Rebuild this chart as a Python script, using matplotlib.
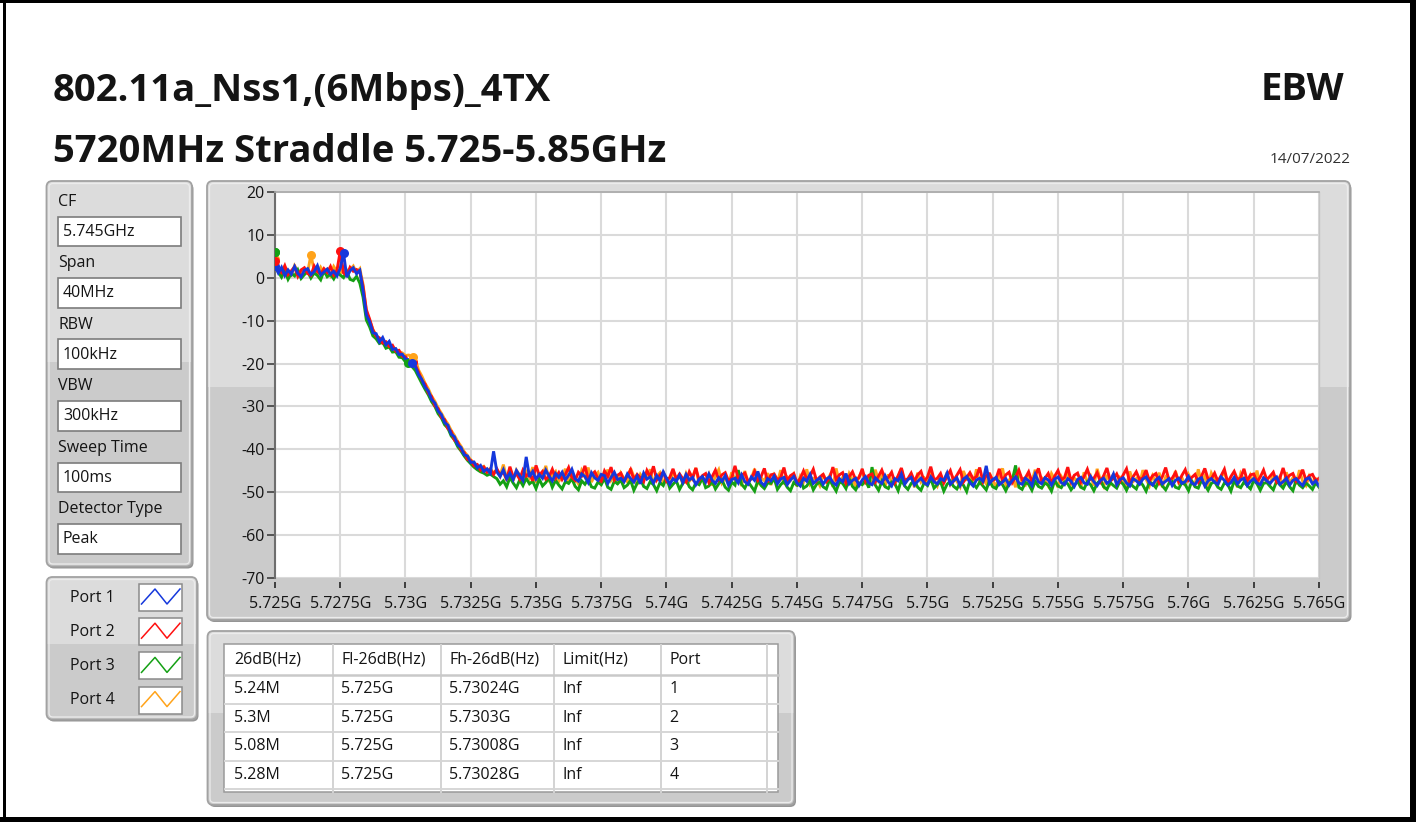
import numpy as np
import matplotlib
matplotlib.use("Agg")
import matplotlib.pyplot as plt
from matplotlib.patches import FancyBboxPatch, Rectangle

plt.rcParams['font.family'] = ['Open Sans', 'DejaVu Sans']

# ---------------------------------------------------------------- text / data
TITLE_1 = "802.11a_Nss1,(6Mbps)_4TX"
TITLE_2 = "5720MHz Straddle 5.725-5.85GHz"
TEST_NAME = "EBW"
TEST_DATE = "14/07/2022"

PARAM_LABELS = ["CF", "Span", "RBW", "VBW", "Sweep Time", "Detector Type"]
PARAM_VALUES = ["5.745GHz", "40MHz", "100kHz", "300kHz", "100ms", "Peak"]

PORT_NAMES = ["Port 1", "Port 2", "Port 3", "Port 4"]
PORT_COLORS = ["#1538dc", "#ff1010", "#14a014", "#ffa31a"]

START_HZ = 5.725e9
STOP_HZ = 5.765e9

# Trace levels in dBm, one value per sweep point (evenly spaced over the span)
PORT1_DBM = [
    2.8, 1.2, 2.5, 0.6, 1.9, 0.9, 2.7, 1.1, 0.3, 1.8,
    2.2, 0.8, 1.5, 2.9, 0.7, 1.4, 2.1, 0.9, 1.6, 0.5,
    2.3, 5.9, 0.2, 1.7, 2.4, 1.0, 1.8,
    -3.0, -8.6, -10.2, -12.8, -13.0, -14.9, -13.9, -15.6, -14.8, -16.7,
    -16.5, -17.9, -17.8, -18.9, -19.1, -19.8, -20.6, -22.6, -23.7, -25.5,
    -26.4, -28.4, -29.2, -31.1, -31.9, -33.8, -34.4, -36.5, -37.1, -39.0,
    -39.6, -41.3, -41.6, -43.1, -43.0, -44.4, -43.8, -45.2, -44.6, -45.6,
    -40.5,
    -45.3, -46.4, -44.8, -46.9, -45.6, -47.1, -45.0, -46.2, -47.3, -41.8,
    -46.5, -45.2, -47.0, -45.9, -46.8, -44.9, -46.3, -47.4, -45.7, -46.6,
    -45.4, -47.2, -46.1, -44.7, -46.9, -47.5, -45.8, -46.4, -47.8, -45.5,
    -46.7, -47.3, -45.9, -46.2, -48.0, -46.6, -45.4, -47.1, -46.8, -47.6,
    -45.8, -46.9, -47.7, -46.3, -48.1, -45.6, -47.0, -46.5, -47.9, -46.2,
    -47.4, -45.3, -46.8, -48.2, -46.9, -47.5, -46.1, -47.8, -45.9, -47.2,
    -46.6, -48.3, -47.0, -46.4, -47.7, -45.8, -47.3, -48.0, -46.7, -47.5,
    -46.2, -48.4, -47.1, -46.8, -47.9, -46.0, -47.6, -48.2, -46.5, -47.3,
    -45.2, -47.8, -48.5, -46.9, -47.4, -46.3, -48.1, -47.0, -46.6, -48.3,
    -47.2, -46.4, -47.9, -48.6, -46.8, -47.5, -45.9, -48.0, -47.3, -46.7,
    -48.2, -47.0, -46.5, -47.8, -48.4, -46.9, -47.6, -45.7, -48.1, -47.3,
    -46.8, -48.5, -47.2, -46.4, -47.9, -48.3, -46.7, -47.5, -48.0, -46.2,
    -47.7, -48.6, -46.9, -47.4, -45.8, -48.2, -47.1, -46.6, -48.4, -47.5,
    -46.8, -47.9, -48.3, -46.5, -47.6, -48.1, -46.9, -47.3, -45.6, -48.2,
    -47.4, -46.7, -48.5, -47.0, -46.4, -47.8, -48.6, -47.2, -46.8, -47.5,
    -43.9, -48.0, -47.1, -46.6, -48.3, -47.7, -46.9, -48.4, -47.3, -46.5,
    -47.9, -48.2, -46.8, -47.4, -48.5, -45.9, -47.6, -48.1, -46.7, -47.2,
    -48.4, -47.0, -46.5, -47.8, -48.3, -46.9, -47.5, -48.7, -47.1, -46.6,
    -47.9, -48.2, -46.4, -47.6, -48.5, -47.3, -46.8, -48.0, -47.4, -45.8,
    -48.3, -47.1, -46.7, -47.9, -48.6, -46.9, -47.4, -48.2, -47.0, -46.5,
    -47.8, -48.4, -47.2, -46.6, -48.1, -47.5, -46.9, -48.5, -47.3, -46.8,
    -48.0, -47.6, -46.4, -47.9, -48.3, -47.0, -46.7, -48.6, -47.4, -46.9,
    -47.7, -48.2, -46.5, -47.3, -48.4, -47.8, -46.6, -48.1, -47.2, -46.8,
    -48.5, -47.5, -46.9, -47.9, -48.3, -46.7, -47.4, -48.0, -47.1, -46.5,
    -48.2, -47.6, -46.8, -48.4, -47.3, -46.9, -47.8, -48.5, -47.0, -46.7,
    -48.1, -47.4, -48.6,
]

PORT2_DBM = [
    4.0, 2.1, 1.3, 2.9, 0.8, 1.7, 2.6, 0.4, 1.9, 2.4,
    1.1, 0.6, 2.8, 1.5, 0.9, 2.2, 1.3, 2.7, 0.7, 1.8,
    6.3, 1.2, 0.6, 2.5, 1.6, 2.0, 1.4,
    -2.0, -7.4, -9.6, -12.1, -13.6, -14.0, -15.2, -14.9, -16.0, -15.7,
    -17.1, -16.9, -18.3, -18.4, -19.6, -19.2, -20.4, -22.0, -23.9, -24.8,
    -26.9, -27.7, -29.9, -30.5, -32.6, -33.1, -35.2, -35.8, -37.9, -38.3,
    -40.2, -40.8, -42.4, -42.6, -43.9, -43.6, -44.9, -44.2, -45.4, -44.7,
    -45.9,
    -44.6, -46.0, -45.3, -47.2, -44.1, -46.5, -45.8, -47.0, -44.9, -46.3,
    -45.6, -47.4, -43.8, -46.1, -45.2, -47.0, -46.4, -44.7, -46.8, -45.5,
    -47.1, -45.9, -44.3, -46.6, -47.3, -45.4, -46.2, -43.9, -47.0, -46.0,
    -45.3, -46.9, -47.5, -45.1, -46.4, -44.2, -47.2, -46.1, -45.6, -47.4,
    -46.3, -44.8, -47.1, -45.9, -46.7, -47.6, -45.0, -46.5, -44.0, -47.2,
    -46.0, -45.4, -47.5, -46.6, -44.6, -47.0, -45.8, -46.9, -47.7, -45.3,
    -46.8, -44.4, -47.3, -46.2, -45.7, -47.8, -46.4, -44.9, -47.1, -46.0,
    -45.5, -47.4, -46.7, -43.9, -47.0, -46.1, -45.6, -47.6, -46.9, -45.2,
    -47.3, -46.4, -44.5, -47.7, -46.0, -45.8, -47.2, -46.6, -44.3, -47.5,
    -46.2, -45.7, -47.8, -46.9, -45.1, -47.0, -46.3, -44.7, -47.4, -46.5,
    -45.9, -47.6, -46.8, -44.2, -47.1, -46.0, -45.5, -47.9, -46.4, -45.3,
    -47.2, -46.7, -44.6, -47.5, -46.1, -45.8, -47.7, -46.3, -44.9, -47.0,
    -46.6, -45.4, -47.8, -46.2, -44.4, -47.3, -46.9, -45.6, -47.5, -46.0,
    -45.2, -47.6, -46.5, -44.1, -47.2, -46.8, -45.7, -47.9, -46.3, -45.0,
    -47.4, -46.1, -44.8, -47.7, -46.6, -45.5, -47.0, -46.4, -44.3, -47.6,
    -46.2, -45.8, -47.3, -46.9, -44.6, -47.5, -46.0, -45.4, -47.8, -46.5,
    -44.9, -47.1, -46.7, -45.3, -47.6, -46.2, -44.5, -47.4, -46.8, -45.7,
    -47.9, -46.3, -45.0, -47.2, -46.6, -44.2, -47.5, -46.1, -45.6, -47.7,
    -46.4, -44.7, -47.0, -46.8, -45.5, -47.6, -46.2, -44.4, -47.3, -46.9,
    -45.8, -47.5, -46.0, -44.6, -47.8, -46.5, -45.3, -47.1, -46.7, -44.9,
    -47.4, -46.2, -45.7, -47.9, -46.4, -44.3, -47.2, -46.8, -45.5, -47.6,
    -46.1, -44.8, -47.3, -46.6, -45.9, -47.7, -46.3, -44.5, -47.0, -46.9,
    -45.6, -47.5, -46.2, -44.7, -47.8, -46.4, -45.2, -47.1, -46.7, -44.6,
    -47.4, -46.0, -45.8, -47.6, -46.5, -44.9, -47.2, -46.3, -45.4, -47.7,
    -46.8, -44.4, -47.0, -46.1, -45.7, -47.5, -46.6, -44.8, -47.3, -46.2,
    -45.9, -47.4, -46.8,
]

PORT3_DBM = [
    6.0, 1.4, 0.2, 1.8, -0.3, 1.1, 0.5, 1.9, -0.1, 0.8,
    1.5, 0.0, 1.2, 0.6, -0.4, 1.7, 0.3, 0.9, -0.2, 1.3,
    0.7, 0.1, 1.6, -0.3, -0.6, 0.4, -1.2,
    -4.5, -9.8, -11.4, -13.5, -14.2, -15.3, -15.0, -16.4, -16.1, -17.3,
    -17.2, -18.5, -18.6, -19.6, -20.1, -20.7, -21.6, -23.1, -24.6, -26.0,
    -27.3, -28.9, -30.0, -31.7, -32.7, -34.3, -35.1, -36.9, -37.8, -39.4,
    -40.4, -41.6, -42.6, -43.4, -44.2, -44.8, -45.3, -45.6, -46.1, -45.8,
    -46.4,
    -46.9, -48.2, -47.4, -48.8, -46.6, -47.9, -49.0, -47.2, -48.5, -46.8,
    -48.1, -47.5, -49.2, -47.0, -48.6, -47.8, -46.7, -48.9, -47.3, -48.4,
    -49.3, -47.6, -48.0, -46.9, -48.7, -49.5, -47.4, -48.2, -47.0, -48.8,
    -49.1, -47.7, -48.3, -46.8, -48.9, -49.4, -47.5, -48.1, -47.2, -49.0,
    -48.4, -47.3, -49.6, -48.0, -46.9, -48.7, -49.2, -47.6, -48.3, -49.7,
    -47.8, -48.5, -46.6, -49.1, -48.2, -47.4, -49.4, -48.0, -47.1, -48.8,
    -49.5, -47.9, -48.3, -46.7, -49.0, -48.6, -47.5, -49.3, -48.1, -47.2,
    -48.9, -49.6, -47.7, -48.4, -44.9, -48.2, -49.1, -47.6, -48.7, -49.8,
    -47.3, -48.5, -49.2, -47.9, -48.0, -46.8, -49.4, -48.3, -47.5, -48.9,
    -49.7, -47.8, -48.4, -47.0, -49.1, -48.6, -47.4, -49.5, -48.2, -47.7,
    -48.8, -49.3, -47.1, -48.5, -49.8, -47.6, -48.0, -49.2, -46.9, -48.7,
    -49.5, -47.9, -48.3, -47.3, -49.0, -44.2, -48.4, -49.6, -47.5, -48.8,
    -49.2, -47.7, -48.1, -49.7, -47.2, -48.6, -49.4, -48.0, -47.4, -48.9,
    -49.6, -47.8, -48.5, -46.9, -49.1, -48.3, -47.6, -49.8, -48.2, -47.5,
    -48.7, -49.3, -47.9, -48.4, -49.9, -47.3, -48.1, -49.0, -47.7, -48.6,
    -49.5, -47.4, -48.8, -49.2, -47.6, -48.3, -49.7, -48.0, -47.2, -43.8,
    -48.9, -49.4, -47.8, -48.2, -49.6, -47.5, -48.7, -49.1, -47.9, -48.4,
    -49.8, -47.3, -48.6, -49.0, -47.7, -48.1, -49.5, -48.5, -47.4, -48.9,
    -49.3, -47.6, -48.3, -49.7, -48.0, -47.2, -48.8, -49.4, -47.8, -48.5,
    -49.1, -47.5, -48.2, -49.6, -47.9, -48.7, -49.3, -47.4, -48.4, -49.8,
    -47.7, -48.1, -49.0, -47.3, -48.6, -49.5, -48.0, -47.6, -48.9, -49.2,
    -47.8, -48.3, -49.7, -47.5, -48.8, -49.1, -47.2, -48.4, -49.6, -48.0,
    -47.6, -48.9, -49.4, -47.9, -48.2, -49.8, -47.4, -48.6, -49.0, -47.7,
    -48.5, -49.3, -47.3, -48.1, -49.6, -48.0, -47.8, -48.7, -49.5, -47.5,
    -48.3, -49.1, -47.6, -48.8, -49.7, -47.2, -48.4, -49.0, -47.9, -48.6,
    -49.4, -47.8, -48.9,
]

PORT4_DBM = [
    4.5, 2.3, 1.0, 2.6, 1.4, 0.7, 2.9, 1.6, 0.9, 2.2,
    1.3, 5.4, 1.8, 0.8, 2.5, 1.2, 2.0, 0.6, 2.7, 1.5,
    1.1, 2.4, 0.9, 1.9, 2.8, 1.3, 2.2,
    -1.5, -7.9, -9.9, -12.0, -13.4, -14.1, -14.6, -15.1, -15.4, -16.2,
    -16.6, -17.2, -17.5, -18.1, -18.0, -18.4, -18.9, -21.5, -22.9, -24.6,
    -25.9, -27.6, -28.8, -30.4, -31.6, -33.0, -34.1, -35.6, -36.8, -38.2,
    -39.3, -40.6, -41.5, -42.5, -43.2, -43.7, -44.3, -44.0, -45.1, -44.5,
    -45.6,
    -44.8, -46.3, -43.6, -46.9, -45.5, -47.4, -44.9, -46.1, -47.6, -45.3,
    -46.7, -44.2, -47.8, -45.8, -46.4, -43.9, -47.1, -46.0, -45.2, -47.5,
    -46.3, -44.6, -47.9, -45.7, -46.8, -48.1, -45.0, -46.5, -44.3, -47.7,
    -46.1, -45.4, -48.0, -46.6, -44.8, -47.3, -46.2, -48.2, -45.6, -46.9,
    -47.6, -44.5, -46.4, -48.3, -45.9, -47.0, -46.7, -44.7, -48.0, -46.3,
    -45.5, -47.8, -46.9, -48.4, -44.9, -47.2, -46.0, -48.1, -45.7, -47.5,
    -46.5, -44.4, -48.2, -46.8, -47.3, -45.8, -48.5, -46.2, -44.8, -47.9,
    -46.6, -48.3, -45.4, -47.1, -46.4, -48.6, -45.1, -47.7, -46.9, -44.6,
    -48.0, -46.7, -47.4, -45.6, -48.4, -46.1, -47.8, -44.9, -48.2, -46.5,
    -47.3, -45.9, -48.7, -46.3, -47.6, -44.7, -48.1, -46.8, -47.0, -48.5,
    -45.8, -47.5, -46.2, -48.8, -44.5, -47.9, -46.6, -48.3, -45.7, -47.2,
    -48.6, -46.4, -45.2, -47.8, -46.9, -48.4, -44.8, -47.4, -46.1, -48.7,
    -45.9, -47.6, -48.2, -46.5, -44.6, -48.0, -47.1, -46.3, -48.9, -45.5,
    -47.7, -46.8, -48.3, -44.9, -47.3, -48.6, -46.0, -47.9, -45.4, -48.2,
    -46.7, -47.5, -48.8, -45.1, -47.0, -46.4, -48.5, -44.7, -47.8, -46.9,
    -48.1, -45.6, -47.4, -48.7, -46.2, -44.5, -48.3, -47.2, -46.6, -48.9,
    -45.3, -47.9, -48.4, -46.1, -47.6, -44.8, -48.0, -46.7, -47.3, -48.6,
    -45.7, -47.1, -48.9, -46.4, -47.7, -45.0, -48.2, -46.8, -47.5, -49.0,
    -45.4, -47.8, -46.3, -48.5, -44.6, -47.2, -48.7, -46.0, -47.9, -45.8,
    -48.3, -46.6, -47.4, -48.8, -45.2, -47.6, -46.9, -48.4, -44.9, -47.0,
    -48.6, -46.2, -47.7, -45.5, -48.9, -46.5, -47.3, -48.1, -45.1, -47.8,
    -46.7, -48.5, -45.9, -47.4, -48.2, -44.7, -47.9, -46.3, -48.7, -45.6,
    -47.1, -48.4, -46.6, -45.3, -48.0, -47.5, -46.8, -48.9, -45.7, -47.2,
    -48.3, -46.1, -47.8, -45.0, -48.6, -46.9, -47.4, -48.1, -45.8, -47.6,
    -46.4, -48.8, -45.4, -47.9, -46.7, -48.2, -44.9, -47.5, -48.5, -46.3,
    -47.8, -46.9, -47.4,
]

TRACES = [PORT1_DBM, PORT2_DBM, PORT3_DBM, PORT4_DBM]

# 26 dB bandwidth edges per port (GHz)
FL_GHZ = [5.725, 5.725, 5.725, 5.725]
FH_GHZ = [5.73024, 5.7303, 5.73008, 5.73028]
LIMIT_TEXT = ["Inf", "Inf", "Inf", "Inf"]
PORT_NUMBERS = ["1", "2", "3", "4"]
TABLE_HEADERS = ["26dB(Hz)", "Fl-26dB(Hz)", "Fh-26dB(Hz)", "Limit(Hz)", "Port"]

Y_TICKS = [20, 10, 0, -10, -20, -30, -40, -50, -60, -70]
X_TICKS_GHZ = [5.725, 5.7275, 5.73, 5.7325, 5.735, 5.7375, 5.74, 5.7425,
               5.745, 5.7475, 5.75, 5.7525, 5.755, 5.7575, 5.76, 5.7625, 5.765]
X_TICK_LABELS = ["5.725G", "5.7275G", "5.73G", "5.7325G", "5.735G", "5.7375G",
                 "5.74G", "5.7425G", "5.745G", "5.7475G", "5.75G", "5.7525G",
                 "5.755G", "5.7575G", "5.76G", "5.7625G", "5.765G"]

# ---------------------------------------------------------------- figure
W, H = 1416, 822
fig = plt.figure(figsize=(W / 100, H / 100), dpi=100)
fig.patch.set_facecolor("white")

bg = fig.add_axes([0, 0, 1, 1])
bg.set_xlim(0, W)
bg.set_ylim(H, 0)
bg.axis("off")
bg.set_zorder(0)

TXT = "#141414"
FS = 11.5


def fig_rect(x0, y0, x1, y1):
    return [x0 / W, 1 - y1 / H, (x1 - x0) / W, (y1 - y0) / H]


def panel(x0, y0, x1, y1, split=0.47):
    w, h = x1 - x0, y1 - y0
    style = "round,pad=0,rounding_size=6"
    bg.add_patch(FancyBboxPatch((x0 + 1.5, y0 + 2), w, h, boxstyle=style,
                                fc="#959595", ec="none", zorder=1))
    body = FancyBboxPatch((x0, y0), w, h, boxstyle=style,
                          fc="#dcdcdc", ec="none", zorder=1.1)
    bg.add_patch(body)
    low = Rectangle((x0, y0 + split * h), w, (1 - split) * h,
                    fc="#cbcbcb", ec="none", zorder=1.2)
    bg.add_patch(low)
    low.set_clip_path(body)
    bg.add_patch(FancyBboxPatch((x0, y0), w, h, boxstyle=style,
                                fc="none", ec="#a2a2a2", lw=1.3, zorder=1.3))
    bg.add_patch(FancyBboxPatch((x0 + 2.5, y0 + 2.5), w - 5, h - 5,
                                boxstyle="round,pad=0,rounding_size=4",
                                fc="none", ec="#ececec", lw=0.9, zorder=1.3))


# outer black frame
for rect in [(3, 0, 3, H), (0, 0, W, 3), (1410, 0, 6, H), (0, 817, W, 5)]:
    bg.add_patch(Rectangle(rect[:2], rect[2], rect[3], fc="black", ec="none", zorder=5))

# header texts
bg.text(53, 101.5, TITLE_1, fontsize=27.5, fontweight="bold", color=TXT,
        ha="left", va="baseline", zorder=6)
bg.text(53, 161.5, TITLE_2, fontsize=27.5, fontweight="bold", color=TXT,
        ha="left", va="baseline", zorder=6)
bg.text(1344, 100, TEST_NAME, fontsize=27.5, fontweight="bold", color=TXT,
        ha="right", va="baseline", zorder=6)
bg.text(1351, 163, TEST_DATE, fontsize=11, color="#303030",
        ha="right", va="baseline", zorder=6)

# panels
panel(46.5, 181, 192, 566.5)
panel(207, 181, 1350, 620)
panel(46.5, 577, 197, 719.5)
panel(207.5, 631, 794.5, 805)

# measurement settings
for k, (lab, val) in enumerate(zip(PARAM_LABELS, PARAM_VALUES)):
    ly = 201.5 + k * 61.5
    fy = 216.5 + k * 61.5
    bg.text(58, ly, lab, fontsize=FS, color=TXT, ha="left", va="center", zorder=6)
    bg.add_patch(Rectangle((57.5, fy), 123.5, 29.5, fc="white", ec="#7c7c7c",
                           lw=1.2, zorder=5))
    bg.text(63, fy + 15, val, fontsize=FS, color=TXT, ha="left", va="center", zorder=6)

# plot legend
for k, (name, col) in enumerate(zip(PORT_NAMES, PORT_COLORS)):
    ty = 597.5 + k * 34.2
    by = 584 + k * 34.2
    bg.text(70, ty, name, fontsize=FS, color=TXT, ha="left", va="center", zorder=6)
    bg.add_patch(Rectangle((139, by), 43, 27, fc="white", ec="#8a8a8a", lw=1.1, zorder=5))
    bg.plot([141.5, 155, 167, 180], [by + 20, by + 5, by + 20, by + 5],
            color=col, lw=1.1, zorder=6)

# results table
bg.add_patch(Rectangle((224, 644), 554, 148, fc="white", ec="#9a9a9a", lw=1.1, zorder=5))
col_sep = [332.7, 440.7, 554, 660.7, 767.3]
col_txt = [234, 341.5, 449.5, 563, 669.5]
for x in col_sep:
    bg.plot([x, x], [644.5, 791.5], color="#d3d3d3", lw=1.4, zorder=5.5)
bg.plot([224.5, 777.5], [675, 675], color="#c9c9c9", lw=1.8, zorder=5.5)
for y in [703.5, 732, 760.5, 789]:
    bg.plot([224.5, 777.5], [y, y], color="#d6d6d6", lw=1.4, zorder=5.5)
for x, head in zip(col_txt, TABLE_HEADERS):
    bg.text(x, 659.5, head, fontsize=FS, color=TXT, ha="left", va="center", zorder=6)

ebw_text = ["%gM" % round((fh - fl) * 1e3, 3) for fl, fh in zip(FL_GHZ, FH_GHZ)]
fl_text = ["%gG" % v for v in FL_GHZ]
fh_text = ["%gG" % v for v in FH_GHZ]
for r in range(4):
    ry = 689.3 + r * 28.5
    row = [ebw_text[r], fl_text[r], fh_text[r], LIMIT_TEXT[r], PORT_NUMBERS[r]]
    for x, s in zip(col_txt, row):
        bg.text(x, ry, s, fontsize=FS, color=TXT, ha="left", va="center", zorder=6)

# ---------------------------------------------------------------- spectrum graph
ax = fig.add_axes(fig_rect(275, 192.5, 1319, 577.5))
ax.set_zorder(3)
ax.set_facecolor("white")
ax.set_xlim(START_HZ, STOP_HZ)
ax.set_ylim(-70, 20)
ax.set_xticks([v * 1e9 for v in X_TICKS_GHZ])
ax.set_xticklabels(X_TICK_LABELS)
ax.set_yticks(Y_TICKS)
ax.set_yticklabels([str(v) for v in Y_TICKS])
ax.grid(True, color="#dadada", lw=1.5)
ax.set_axisbelow(True)

ax.spines["left"].set_color("#6e6e6e")
ax.spines["left"].set_linewidth(1.5)
ax.spines["top"].set_color("#a8a8a8")
ax.spines["top"].set_linewidth(1.2)
ax.spines["right"].set_color("#c4c4c4")
ax.spines["right"].set_linewidth(1.0)
ax.spines["bottom"].set_position(("outward", 3.5))
ax.spines["bottom"].set_visible(False)

ax.tick_params(axis="y", direction="out", length=5.5, width=1.1, color="#333333",
               pad=2, labelsize=FS, labelcolor=TXT)
ax.tick_params(axis="x", direction="out", length=4.5, width=1.3, color="#333333",
               pad=5, labelsize=FS, labelcolor=TXT)

freqs = [np.linspace(START_HZ, STOP_HZ, len(t)) for t in TRACES]

# traces: port 4 underneath, port 1 on top
for k in [3, 2, 1, 0]:
    ax.plot(freqs[k], TRACES[k], color=PORT_COLORS[k], lw=2.1,
            solid_joinstyle="miter", zorder=2 + (3 - k) * 0.1)

MS = 6.5
# lower band-edge markers
for j, k in enumerate([0, 3, 1, 2]):
    y = np.interp(FL_GHZ[k] * 1e9, freqs[k], TRACES[k])
    ax.plot([FL_GHZ[k] * 1e9], [y], "o", color=PORT_COLORS[k], ms=MS, mew=0, zorder=4 + j * 0.1)
# peak markers
for j, k in enumerate([2, 3, 1, 0]):
    i = int(np.argmax(TRACES[k]))
    ax.plot([freqs[k][i]], [TRACES[k][i]], "o", color=PORT_COLORS[k], ms=MS, mew=0,
            zorder=4.5 + j * 0.1)
# upper band-edge markers
for j, k in enumerate([2, 1, 3, 0]):
    y = np.interp(FH_GHZ[k] * 1e9, freqs[k], TRACES[k])
    ax.plot([FH_GHZ[k] * 1e9], [y], "o", color=PORT_COLORS[k], ms=MS, mew=0,
            zorder=5 + j * 0.1)

fig.savefig("out.png", dpi=100, facecolor="white")
